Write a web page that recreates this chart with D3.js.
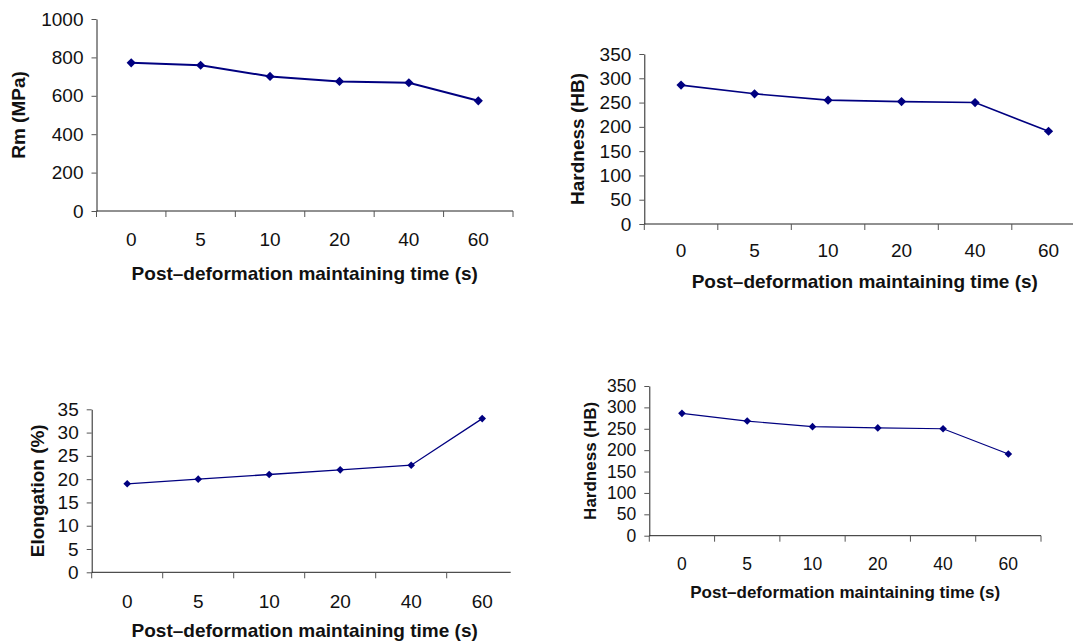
<!DOCTYPE html>
<html>
<head>
<meta charset="utf-8">
<script src="https://cdn.jsdelivr.net/npm/d3@7"></script>
<style>
  body { margin: 0; background: #fff; }
  svg { display: block; font-family: "Liberation Sans", Arial, sans-serif; }
</style>
</head>
<body>
<div id="chart"></div>
<script>
var width = 1073;
var height = 641;

// data
var times = ["0", "5", "10", "20", "40", "60"];
var rmValues = [772, 759, 701, 675, 668, 574];
var hardnessValues = [286, 268, 255, 252, 250, 191];
var elongationValues = [19, 20, 21, 22, 23, 33];

var rmTicks = [0, 200, 400, 600, 800, 1000];
var hardnessTicks = [0, 50, 100, 150, 200, 250, 300, 350];
var elongationTicks = [0, 5, 10, 15, 20, 25, 30, 35];

var xTitle = "Post\u2013deformation maintaining time (s)";
var navy = "#000080";

var svg = d3.select("#chart")
    .append("svg")
    .attr("width", width)
    .attr("height", height);

// layout of each little chart
var panels = [
    { values: rmValues, ticks: rmTicks, yTitle: "Rm (MPa)",
      left: 96.5, right: 513, axisEnd: 513, top: 19, bottom: 211,
      yTitleX: 25, tickBase: 246, titleBase: 280,
      tickFont: 19, titleFont: 19, r: 4.6, lw: 2 },
    { values: hardnessValues, ticks: hardnessTicks, yTitle: "Hardness (HB)",
      left: 644.3, right: 1085.3, axisEnd: 1085.3, top: 54, bottom: 224,
      yTitleX: 584, tickBase: 257, titleBase: 288,
      tickFont: 19, titleFont: 19, r: 4.6, lw: 1.6 },
    { values: elongationValues, ticks: elongationTicks, yTitle: "Elongation (%)",
      left: 91.7, right: 517.7, axisEnd: 510.7, top: 409.3, bottom: 572.3,
      yTitleX: 44, tickBase: 608, titleBase: 637,
      tickFont: 19, titleFont: 19, r: 3.8, lw: 1.3 },
    { values: hardnessValues, ticks: hardnessTicks, yTitle: "Hardness (HB)",
      left: 649.3, right: 1041, axisEnd: 1041, top: 386, bottom: 535.7,
      yTitleX: 596, tickBase: 570, titleBase: 598,
      tickFont: 17.5, titleFont: 17, r: 3.8, lw: 1.2 }
];

var diamond = function(r) {
    return "M0," + (-r) + "L" + r + ",0L0," + r + "L" + (-r) + ",0Z";
};

panels.forEach(function(p) {
    var x = d3.scaleBand()
        .domain(times)
        .range([p.left, p.right]);

    var y = d3.scaleLinear()
        .domain([0, d3.max(p.ticks)])
        .range([p.bottom, p.top]);

    var g = svg.append("g");

    // y axis
    var yAxis = g.append("g")
        .attr("transform", "translate(" + p.left + ",0)")
        .call(d3.axisLeft(y)
            .tickValues(p.ticks)
            .tickFormat(d3.format("d"))
            .tickSize(5)
            .tickPadding(8)
            .tickSizeOuter(0));
    yAxis.select(".domain").attr("stroke", "#222");
    yAxis.selectAll(".tick line").attr("stroke", "#555");
    yAxis.selectAll("text")
        .attr("font-size", p.tickFont)
        .attr("fill", "#111");

    // x axis line and ticks on category boundaries
    g.append("line")
        .attr("x1", p.left).attr("x2", p.axisEnd)
        .attr("y1", p.bottom).attr("y2", p.bottom)
        .attr("stroke", "#222");

    var bounds = times.map(function(t) { return x(t); }).concat([x.range()[1]]);
    g.selectAll(".xtick")
        .data(bounds.filter(function(b) { return b <= p.axisEnd + 0.5; }))
        .enter()
        .append("line")
        .attr("x1", function(d) { return d; })
        .attr("x2", function(d) { return d; })
        .attr("y1", p.bottom)
        .attr("y2", p.bottom + 6)
        .attr("stroke", "#555");

    g.selectAll(".xlab")
        .data(times)
        .enter()
        .append("text")
        .attr("x", function(d) { return x(d) + x.bandwidth() / 2; })
        .attr("y", p.tickBase)
        .attr("text-anchor", "middle")
        .attr("font-size", p.tickFont)
        .attr("fill", "#111")
        .text(function(d) { return d; });

    // titles
    g.append("text")
        .attr("x", (p.left + p.right) / 2)
        .attr("y", p.titleBase)
        .attr("text-anchor", "middle")
        .attr("font-size", p.titleFont)
        .attr("font-weight", "bold")
        .attr("fill", "#111")
        .text(xTitle);

    g.append("text")
        .attr("transform", "translate(" + p.yTitleX + "," + ((p.top + p.bottom) / 2) + ") rotate(-90)")
        .attr("text-anchor", "middle")
        .attr("font-size", p.titleFont)
        .attr("font-weight", "bold")
        .attr("fill", "#111")
        .text(p.yTitle);

    // line and markers
    var line = d3.line()
        .x(function(d, i) { return x(times[i]) + x.bandwidth() / 2; })
        .y(function(d) { return y(d); });

    g.append("path")
        .datum(p.values)
        .attr("d", line)
        .attr("fill", "none")
        .attr("stroke", navy)
        .attr("stroke-width", p.lw);

    g.selectAll(".pt")
        .data(p.values)
        .enter()
        .append("path")
        .attr("d", diamond(p.r))
        .attr("transform", function(d, i) {
            return "translate(" + (x(times[i]) + x.bandwidth() / 2) + "," + y(d) + ")";
        })
        .attr("fill", navy);
});
</script>
</body>
</html>
